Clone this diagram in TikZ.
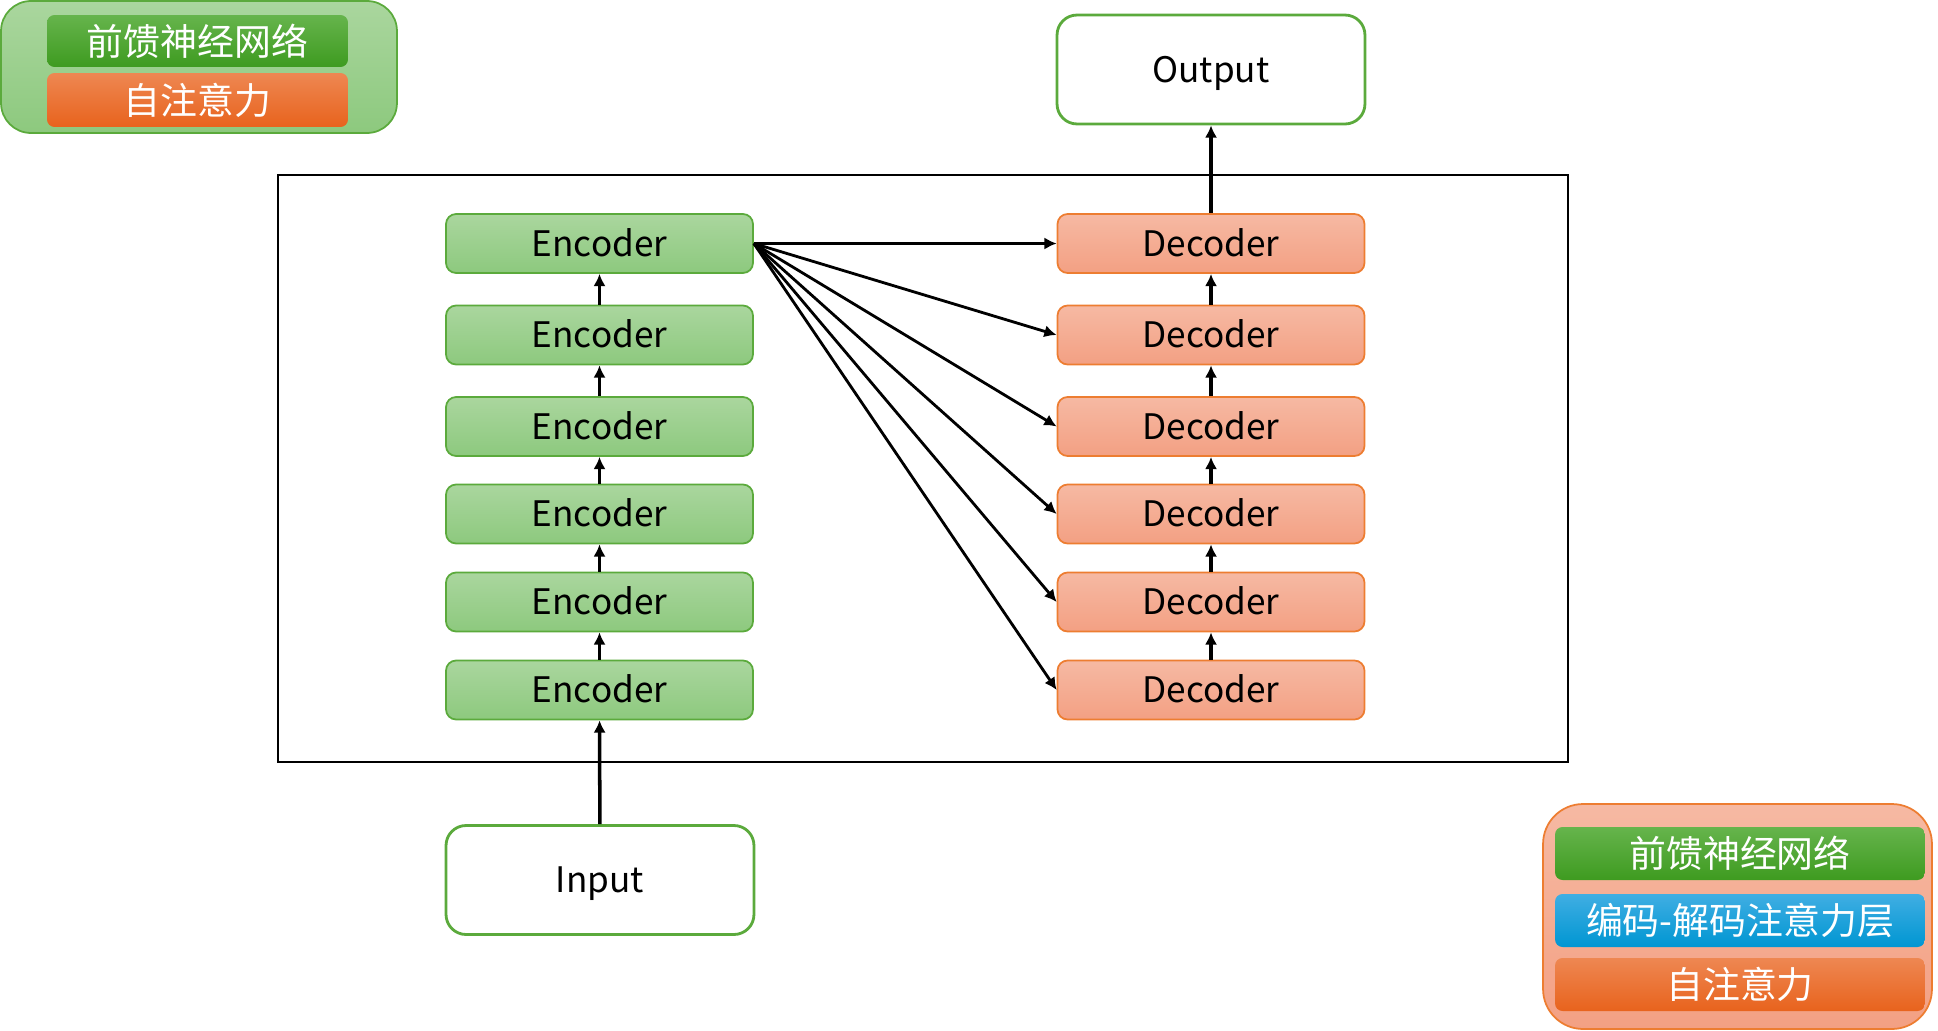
\documentclass[tikz,border=0pt]{standalone}
\usepackage{fontspec}
\setmainfont{Noto Sans CJK SC}
\usetikzlibrary{arrows.meta}
\definecolor{encTop}{HTML}{AAD69E}
\definecolor{encBot}{HTML}{8DC97E}
\definecolor{encLine}{HTML}{5BAA3C}
\definecolor{decTop}{HTML}{F6B9A3}
\definecolor{decBot}{HTML}{F3A083}
\definecolor{decLine}{HTML}{ED7D31}
\definecolor{ffnTop}{HTML}{66B44C}
\definecolor{ffnBot}{HTML}{3E9B20}
\definecolor{saTop}{HTML}{EE8752}
\definecolor{saBot}{HTML}{E8631D}
\definecolor{edTop}{HTML}{40AEE3}
\definecolor{edBot}{HTML}{0096D2}
\tikzset{
    enc/.style={draw=encLine,line width=1pt,rounded corners=0.2cm,top color=encTop,bottom color=encBot,
        minimum width=6.14cm,minimum height=1.18cm,inner sep=0pt,font=\fontsize{20}{24}\selectfont,
        text height=14.6pt,text depth=0pt},
    dec/.style={enc,draw=decLine,top color=decTop,bottom color=decBot},
    io/.style={draw=encLine,line width=1.6pt,rounded corners=0.4cm,fill=white,
        minimum width=6.16cm,minimum height=2.18cm,inner sep=0pt,font=\fontsize{20}{24}\selectfont,
        text height=14.6pt,text depth=0pt},
    legend/.style={draw=none,rounded corners=0.15cm,minimum width=7.4cm,minimum height=1.06cm,
        inner sep=0pt,text=white,font=\fontsize{21}{25}\selectfont},
    >={Latex[length=7pt,width=7pt]}
}
\begin{document}
\begin{tikzpicture}[x=0.02cm,y=-0.02cm]
    \useasboundingbox (0,0) rectangle (1938,1031);
    % legend, encoder layer
    \node[draw=encLine,line width=1pt,rounded corners=0.6cm,top color=encTop,bottom color=encBot,
        minimum width=7.92cm,minimum height=2.64cm] (legenc) at (199,67) {};
    \node[legend,minimum width=6.02cm,minimum height=1.04cm,top color=ffnTop,bottom color=ffnBot] (legenc ffn) at (197.5,41) {前馈神经网络};
    \node[legend,minimum width=6.02cm,minimum height=1.08cm,top color=saTop,bottom color=saBot] (legenc sa) at (197.5,100) {自注意力};
    % legend, decoder layer
    \node[draw=decLine,line width=1pt,rounded corners=0.8cm,top color=decTop,bottom color=decBot,
        minimum width=7.78cm,minimum height=4.5cm] (legdec) at (1737.5,916.5) {};
    \node[legend,top color=ffnTop,bottom color=ffnBot] (legdec ffn) at (1740,853.5) {前馈神经网络};
    \node[legend,top color=edTop,bottom color=edBot] (legdec ed) at (1740,920.5) {编码-解码注意力层};
    \node[legend,top color=saTop,bottom color=saBot] (legdec sa) at (1740,984.5) {自注意力};
    % frame
    \draw[line width=0.8pt] (278,175) rectangle (1568,762);
    % encoders
    \node[enc] (enc1) at (599.5,243.5) {Encoder};
    \node[enc] (enc2) at (599.5,335) {Encoder};
    \node[enc] (enc3) at (599.5,426.5) {Encoder};
    \node[enc] (enc4) at (599.5,514) {Encoder};
    \node[enc] (enc5) at (599.5,602) {Encoder};
    \node[enc] (enc6) at (599.5,690) {Encoder};
    % decoders
    \node[dec] (dec1) at (1211,243.5) {Decoder};
    \node[dec] (dec2) at (1211,335) {Decoder};
    \node[dec] (dec3) at (1211,426.5) {Decoder};
    \node[dec] (dec4) at (1211,514) {Decoder};
    \node[dec] (dec5) at (1211,602) {Decoder};
    \node[dec] (dec6) at (1211,690) {Decoder};
    \node[io] (input) at (600,880) {Input};
    \node[io] (output) at (1211,69.5) {Output};
    % stacks
    \draw[->,line width=2pt] (input) -- (enc6);
    \draw[->,line width=2pt] (enc6) -- (enc5);
    \draw[->,line width=2pt] (enc5) -- (enc4);
    \draw[->,line width=2pt] (enc4) -- (enc3);
    \draw[->,line width=2pt] (enc3) -- (enc2);
    \draw[->,line width=2pt] (enc2) -- (enc1);
    \draw[->,line width=2pt] (dec6) -- (dec5);
    \draw[->,line width=2pt] (dec5) -- (dec4);
    \draw[->,line width=2pt] (dec4) -- (dec3);
    \draw[->,line width=2pt] (dec3) -- (dec2);
    \draw[->,line width=2pt] (dec2) -- (dec1);
    \draw[->,line width=2pt] (dec1) -- (output);
    % encoder output to every decoder
    \draw[->,line width=1.6pt] (enc1.east) -- (dec1.west);
    \draw[->,line width=1.6pt] (enc1.east) -- (dec2.west);
    \draw[->,line width=1.6pt] (enc1.east) -- (dec3.west);
    \draw[->,line width=1.6pt] (enc1.east) -- (dec4.west);
    \draw[->,line width=1.6pt] (enc1.east) -- (dec5.west);
    \draw[->,line width=1.6pt] (enc1.east) -- (dec6.west);
\end{tikzpicture}
\end{document}
